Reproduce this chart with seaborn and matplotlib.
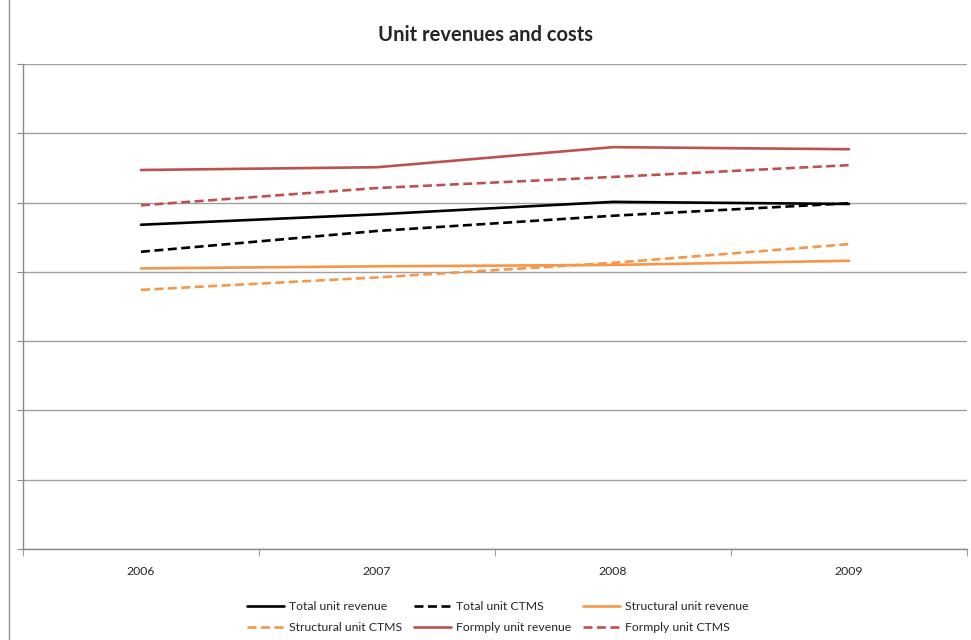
import matplotlib
matplotlib.use("Agg")
import matplotlib.pyplot as plt
import seaborn as sns
import pandas as pd
from matplotlib.patches import Rectangle
from matplotlib.ticker import FixedLocator, NullFormatter

years = ["2006", "2007", "2008", "2009"]
total_unit_revenue = [4.68, 4.83, 5.01, 4.98]
total_unit_ctms = [4.29, 4.59, 4.81, 4.99]
structural_unit_revenue = [4.05, 4.08, 4.10, 4.16]
structural_unit_ctms = [3.74, 3.92, 4.13, 4.40]
formply_unit_revenue = [5.47, 5.51, 5.80, 5.77]
formply_unit_ctms = [4.96, 5.21, 5.37, 5.54]

series = [
    ("Total unit revenue", total_unit_revenue, "#000000", "-"),
    ("Total unit CTMS", total_unit_ctms, "#000000", "--"),
    ("Structural unit revenue", structural_unit_revenue, "#F79646", "-"),
    ("Structural unit CTMS", structural_unit_ctms, "#F79646", "--"),
    ("Formply unit revenue", formply_unit_revenue, "#C0504D", "-"),
    ("Formply unit CTMS", formply_unit_ctms, "#C0504D", "--"),
]

sns.set_style("white")
plt.rcParams['font.family'] = ['Lato', 'DejaVu Sans']

fig = plt.figure(figsize=(9.71, 6.40), dpi=100)
W, H = 971, 640
ax = fig.add_axes([23 / W, 1 - 549 / H, (967 - 23) / W, (549 - 64) / H])

x = list(range(len(years)))
handles = {}
for name, vals, color, ls in series:
    df = pd.DataFrame({"x": x, "y": vals})
    sns.lineplot(data=df, x="x", y="y", ax=ax, color=color, linewidth=1.9,
                 label=name, legend=False)
    line = ax.get_lines()[-1]
    line.set_linestyle(ls)
    if ls == "--":
        line.set_dashes([3.4, 1.7])
    handles[name] = line

ax.set_xlim(-0.5, 3.5)
ax.set_ylim(0, 7)
ax.set_yticks(range(0, 8))
ax.yaxis.set_major_formatter(NullFormatter())
ax.tick_params(axis="y", length=4, color="#888888", direction="out", left=True)
ax.set_xticks(x)
ax.set_xticklabels(years, fontsize=8.8)
ax.tick_params(axis="x", length=0, pad=12)
ax.xaxis.set_minor_locator(FixedLocator([-0.5, 0.5, 1.5, 2.5, 3.5]))
ax.tick_params(axis="x", which="minor", length=5, color="#888888", direction="out", bottom=True)
ax.grid(axis="y", color="#A0A0A0", linewidth=1)
ax.set_axisbelow(True)
ax.set_xlabel("")
ax.set_ylabel("")
for side in ["top", "right"]:
    ax.spines[side].set_visible(False)
for side in ["left", "bottom"]:
    ax.spines[side].set_color("#888888")
    ax.spines[side].set_linewidth(1)

fig.text(0.5, 1 - 35 / H, "Unit revenues and costs", ha="center", va="center",
         fontsize=14.5, fontweight="bold")

order = ["Total unit revenue", "Structural unit CTMS",
         "Total unit CTMS", "Formply unit revenue",
         "Structural unit revenue", "Formply unit CTMS"]
leg = fig.legend([handles[n] for n in order], order, ncol=3, loc="center",
                 bbox_to_anchor=(498 / W, 1 - 617 / H), frameon=False,
                 fontsize=8.8, handlelength=3.0, columnspacing=1.0,
                 handletextpad=0.4, labelspacing=0.8)

fig.patches.append(Rectangle((9 / W, -0.01), 1.0, 1.02, transform=fig.transFigure,
                             fill=False, edgecolor="#909090", linewidth=1))

fig.savefig("out.png", dpi=100)
